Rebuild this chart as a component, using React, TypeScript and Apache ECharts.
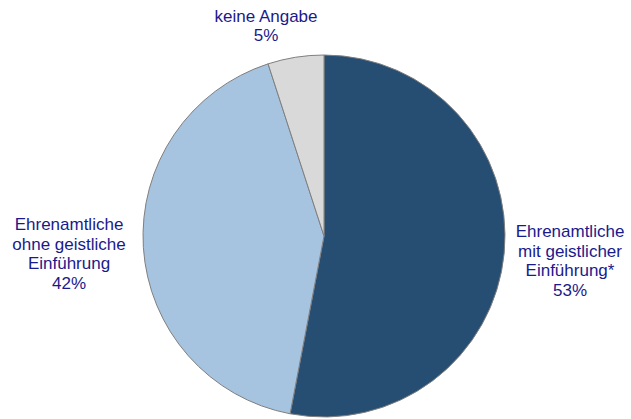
import React, { useEffect, useRef } from "react";
import * as echarts from "echarts";

const categories = [
  "Ehrenamtliche\nmit geistlicher\nEinführung*",
  "Ehrenamtliche\nohne geistliche\nEinführung",
  "keine Angabe",
];
const values = [53, 42, 5];
const colors = ["#264E73", "#A6C3E0", "#D9D9D9"];
const labelPos = [
  { x: 570, y: 261 },
  { x: 69, y: 254 },
  { x: 266, y: 26 },
];

export default function App() {
  const ref = useRef<HTMLDivElement>(null);
  useEffect(() => {
    if (!ref.current) return;
    const chart = echarts.init(ref.current, null, { renderer: "svg" });
    chart.setOption({
      animation: false,
      backgroundColor: "#ffffff",
      series: [
        {
          type: "pie",
          center: [324, 236],
          radius: 181,
          startAngle: 90,
          clockwise: true,
          data: categories.map((name, i) => ({
            name,
            value: values[i],
            itemStyle: { color: colors[i] },
          })),
          itemStyle: { borderColor: "#7F7F7F", borderWidth: 1 },
          label: {
            show: true,
            position: "outside",
            formatter: (p: any) => `${p.name}\n${p.value}%`,
            color: "#1A1A8C",
            fontFamily: "Liberation Sans, Arial, sans-serif",
            fontSize: 17,
            lineHeight: 19.5,
            align: "center",
            overflow: "none",
            width: 200,
          },
          labelLine: { show: false },
          labelLayout: (p: any) => ({
            x: labelPos[p.dataIndex].x,
            y: labelPos[p.dataIndex].y,
            align: "center",
            verticalAlign: "middle",
          }),
          emphasis: { disabled: true },
        },
      ],
    });
    return () => chart.dispose();
  }, []);
  return (
    <div
      ref={ref}
      style={{ position: "fixed", left: 0, top: 0, width: 631, height: 419 }}
    />
  );
}
